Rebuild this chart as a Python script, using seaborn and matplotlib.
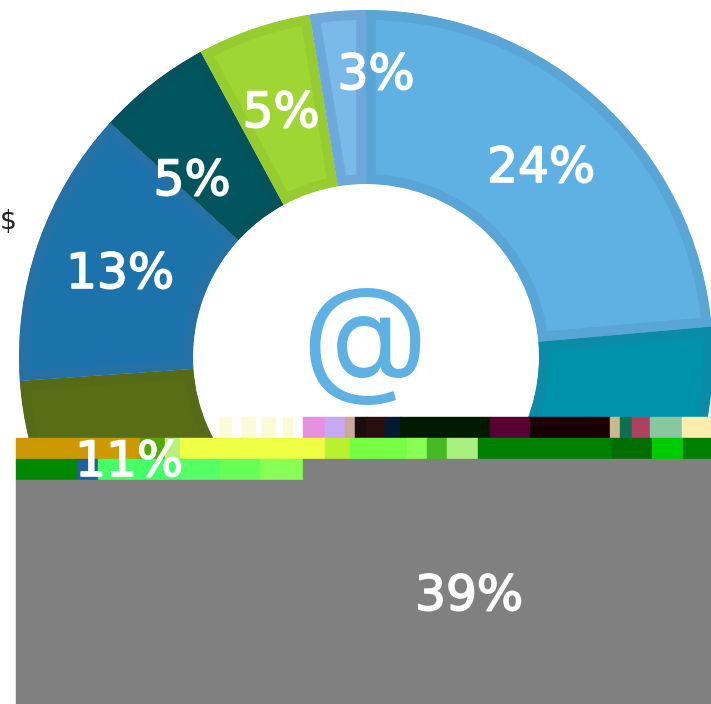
import matplotlib
matplotlib.use('Agg')
import matplotlib.pyplot as plt
import matplotlib.patheffects as pe
import seaborn as sns

# slices, clockwise from the top
shares = [23.6, 39.3, 11.0, 12.9, 5.3, 5.3, 2.6]
share_labels = ['24%', '39%', '11%', '13%', '5%', '5%', '3%']
fill_colors = ['#5FB0E3', '#0092AB', '#596D16', '#1C73AC', '#00555F', '#9FD634', '#7ABAE8']
edge_colors = ['#58A5D6', '#0B8BA5', '#566A18', '#2570A5', '#03525C', '#97CC30', '#6EA8DB']

# label centres in image pixels
label_x = [541, 469, 129, 120, 192, 281, 376]
label_y = [168, 596, 462, 274, 181, 113, 75]

# broken band at the bottom of the image (x edges, colours)
row_a_edges = [220, 232, 242, 256, 262, 276, 283, 293, 303, 325, 345, 355, 367, 385, 400, 490, 530, 610, 620, 632, 650, 682, 711]
row_a_colors = ['#FBFBD8', '#FFFFFF', '#FBFBD8', '#FFFFFF', '#FBFBD8', '#FFFFFF', '#FBFBD8', '#FFFFFF',
                '#E890E0', '#C8A8F0', '#C8A8A0', '#1A0F0F', '#2A0F0F', '#001A33', '#001A00',
                '#5A0030', '#180000', '#C8B890', '#0E7050', '#B04060', '#88C8A0', '#FFEDB0']
row_b_edges = [16, 140, 165, 180, 325, 350, 407, 427, 447, 478, 612, 652, 683, 711]
row_b_colors = ['#CC9900', '#55AA00', '#B8F080', '#EEFF44', '#B8F030', '#77FF44', '#88FF55',
                '#44BB22', '#A8F080', '#008000', '#006E00', '#00CC00', '#008000']
row_c_edges = [16, 77, 98, 180, 220, 260, 303]
row_c_colors = ['#008800', '#2060A0', '#44FF66', '#55FF66', '#66FF55', '#88FF55']

sns.set_theme(style='white')
plt.rcParams['font.family'] = ['DejaVu Sans']

H = 704
fig = plt.figure(figsize=(7.11, 7.04), dpi=100)
ax = fig.add_axes([0, 0, 1, 1])

wedges, _ = ax.pie(shares, colors=sns.color_palette(fill_colors), startangle=90, counterclock=False,
                   center=(366, H - 357), radius=347,
                   wedgeprops={'width': 174})
for w, c in zip(wedges, edge_colors):
    # border sits inside each slice, pie turns clipping off by default
    w.set_edgecolor(c)
    w.set_linewidth(14)
    w.set_clip_on(True)
    w.set_clip_path(w)

ax.set_xlim(0, 711)
ax.set_ylim(0, H)


def draw_row(edges, colors, top, bottom):
    for i in range(len(colors)):
        ax.broken_barh([(edges[i], edges[i + 1] - edges[i])], (H - bottom, bottom - top),
                       color=colors[i], antialiased=False, zorder=3)


draw_row(row_a_edges, row_a_colors, 417, 438)
draw_row(row_b_edges, row_b_colors, 438, 459)
draw_row(row_c_edges, row_c_colors, 459, 480)
draw_row([303, 711], ['#808080'], 459, 480)
draw_row([16, 711], ['#808080'], 480, H)

stroke = [pe.withStroke(linewidth=1.2, foreground='white')]
for x, y, s in zip(label_x, label_y, share_labels):
    ax.text(x, H - y, s, color='white', fontsize=35, ha='center', va='center',
            path_effects=stroke, zorder=5)

ax.text(364, H - 346, '@', color='#5FB0E3', fontsize=94, family='Inter', ha='center', va='center', zorder=4)
ax.text(8, H - 222, '$', color='#222222', fontsize=19, ha='center', va='center', zorder=4)

fig.savefig('out.png', dpi=100)
